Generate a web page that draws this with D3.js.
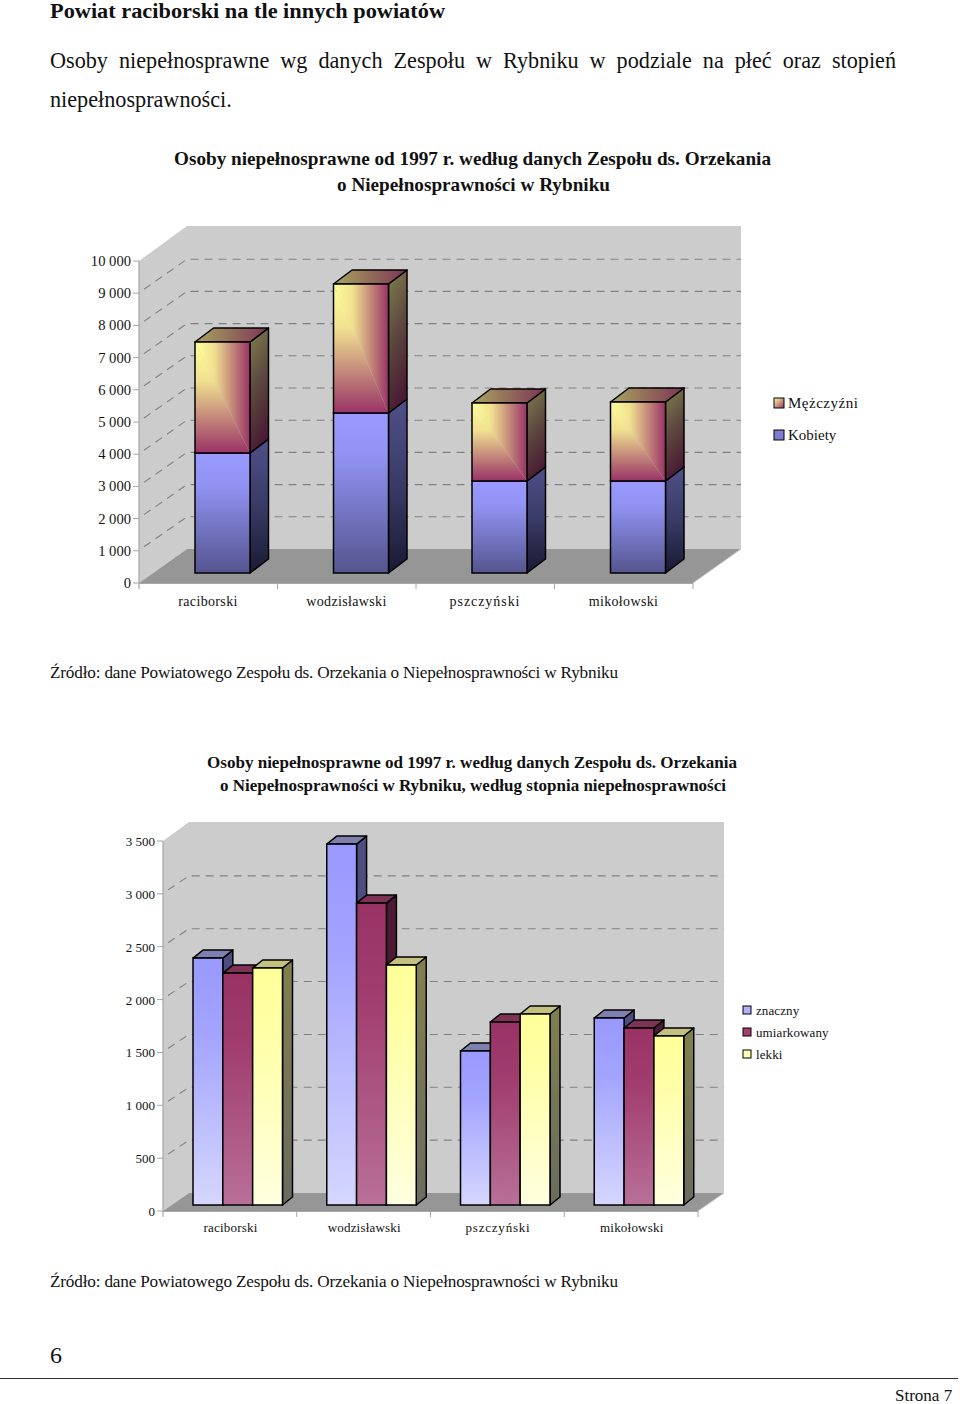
<!DOCTYPE html>
<html><head><meta charset="utf-8">
<script src="https://cdn.jsdelivr.net/npm/d3@7/dist/d3.min.js"></script>
<style>html,body{margin:0;padding:0;background:#fff}svg{display:block}text{font-family:"Liberation Serif",serif;fill:#111}</style>
</head><body><svg id="c" width="960" height="1404"></svg>
<script>
const categories = ["raciborski","wodzisławski","pszczyński","mikołowski"];
const kobiety = [3727,4969,2857,2857];
const mezczyzni = [3447,4006,2423,2453];
const seriesA = ["Mężczyźni","Kobiety"];
const ticksA = [0,1000,2000,3000,4000,5000,6000,7000,8000,9000,10000];
const znaczny = [2336,3414,1457,1769];
const umiarkowany = [2194,2856,1731,1674];
const lekki = [2242,2270,1807,1599];
const seriesB = ["znaczny","umiarkowany","lekki"];
const ticksB = [0,500,1000,1500,2000,2500,3000,3500];
const titleA = ["Osoby niepełnosprawne od 1997 r. według danych Zespołu ds. Orzekania","o Niepełnosprawności w Rybniku"];
const titleB = ["Osoby niepełnosprawne od 1997 r. według danych Zespołu ds. Orzekania","o Niepełnosprawności w Rybniku, według stopnia niepełnosprawności"];
const source = "Źródło: dane Powiatowego Zespołu ds. Orzekania o Niepełnosprawności w Rybniku";

const svg = d3.select("#c"), defs = svg.append("defs");
const fmt = v => d3.format(",")(v).replace(/,/g," ");
const txt = (x,y,s,size,o={}) => {
  const t = svg.append("text").attr("x",x).attr("y",y).attr("font-size",size).text(s);
  if(o.anchor) t.attr("text-anchor",o.anchor);
  if(o.weight) t.attr("font-weight",o.weight);
  if(o.len) t.attr("textLength",o.len).attr("lengthAdjust",o.adj||"spacing");
  if(o.justify){
    const spaces=s.split(" ").length-1;
    t.style("word-spacing",((o.justify-t.node().getComputedTextLength())/spaces)+"px");
  }
  return t;
};
let gid=0;
function grad(x1,y1,x2,y2,stops){
  const id="g"+(gid++);
  const g=defs.append("linearGradient").attr("id",id).attr("x1",x1).attr("y1",y1).attr("x2",x2).attr("y2",y2);
  stops.forEach(s=>g.append("stop").attr("offset",s[0]).attr("stop-color",s[1]));
  return `url(#${id})`;
}
const line=d3.line();
function frame(g,c){
  const y=c.y, dx=c.dx, dy=c.dy, x0=c.x0, x1=c.x1, yb=y(0), yt=y(c.max);
  g.append("path").attr("d",line([[x0,yt],[x0+dx,yt-dy-1],[x1+dx,yt-dy-1],[x1+dx,yb-dy],[x0+dx,yb-dy],[x0,yb]])+"Z").attr("fill","#cccccc");
  g.append("path").attr("d",line([[x0,yb],[x0+dx,yb-dy],[x1+dx,yb-dy],[x1,yb]])+"Z").attr("fill","#969696");
  c.ticks.slice(1,-1).forEach(v=>{
    g.append("path").attr("d",line([[x0+5,y(v)-4],[x0+dx,y(v)-dy],[x1+dx,y(v)-dy]])).attr("fill","none").attr("stroke","#808080").attr("stroke-width",1.1).attr("stroke-dasharray","8 6");
  });
  g.append("path").attr("d",line([[x0,yt],[x0,yb+6]])).attr("stroke","#a6a6a6").attr("stroke-width",1.2);
  g.append("path").attr("d",line([[x0,yb+.5],[x1,yb+.5]])).attr("stroke","#a6a6a6").attr("stroke-width",1.2);
  g.append("path").attr("d",line([[x1,yb],[x1+dx,yb-dy]])).attr("stroke","#c8c8c8").attr("stroke-width",1);
  c.ticks.forEach(v=>{
    g.append("path").attr("d",line([[x0-6,y(v)],[x0,y(v)]])).attr("stroke","#a6a6a6");
    txt(x0-8,y(v)+5,fmt(v),c.tickSize,{anchor:"end"});
  });
  const xb=c.x;
  categories.forEach(k=>{
    const e=xb(k)+xb.bandwidth();
    g.append("path").attr("d",line([[e,yb],[e,yb+6]])).attr("stroke","#a6a6a6");
    txt(xb(k)+c.labelDx,c.labelY,k,c.catSize,{anchor:"middle"}).style("letter-spacing",(k==="pszczyński"?c.catSpace+.6:c.catSpace)+"px");
  });
}
function box(g,x,w,yTop,yBot,dx,dy,front,side,top){
  const sw=1.5;
  g.append("path").attr("d",line([[x+w,yTop],[x+w+dx,yTop-dy],[x+w+dx,yBot-dy],[x+w,yBot]])+"Z").attr("fill",side).attr("stroke","#000").attr("stroke-width",sw).attr("stroke-linejoin","round");
  if(top) g.append("path").attr("d",line([[x,yTop],[x+dx,yTop-dy],[x+w+dx,yTop-dy],[x+w,yTop]])+"Z").attr("fill",top).attr("stroke","#000").attr("stroke-width",sw).attr("stroke-linejoin","round");
  if(Array.isArray(front)){
    g.append("path").attr("d",line([[x,yTop],[x+w,yTop],[x+w,yBot]])+"Z").attr("fill",front[0]);
    g.append("path").attr("d",line([[x,yTop],[x,yBot],[x+w,yBot]])+"Z").attr("fill",front[1]);
    g.append("rect").attr("x",x).attr("y",yTop).attr("width",w).attr("height",yBot-yTop).attr("fill","none").attr("stroke","#000").attr("stroke-width",sw);
  } else {
    g.append("rect").attr("x",x).attr("y",yTop).attr("width",w).attr("height",yBot-yTop).attr("fill",front).attr("stroke","#000").attr("stroke-width",sw);
  }
}

// page text
txt(50,18.4,"Powiat raciborski na tle innych powiatów",20.6,{weight:"bold",len:395,adj:"spacingAndGlyphs"});
txt(50,68,"Osoby niepełnosprawne wg danych Zespołu w Rybniku w podziale na płeć oraz stopień",22.2,{justify:846});
txt(50,107,"niepełnosprawności.",22.2);
txt(174,165,titleA[0],19.5,{weight:"bold",len:597,adj:"spacingAndGlyphs"});
txt(337,191,titleA[1],19.5,{weight:"bold",len:273,adj:"spacingAndGlyphs"});
txt(50,678,source,17.2,{len:568});
txt(207,768,titleB[0],17.5,{weight:"bold",len:530,adj:"spacingAndGlyphs"});
txt(220,791,titleB[1],17.5,{weight:"bold",len:506,adj:"spacingAndGlyphs"});
txt(50,1287,source,17.2,{len:568});
txt(50,1363,"6",24);
svg.append("path").attr("d",line([[0,1378.5],[958,1378.5]])).attr("stroke","#333").attr("stroke-width",1);
txt(895,1401,"Strona 7",17);

// chart A
{
  const y=d3.scaleLinear().domain([0,10000]).range([583,261]);
  const x=d3.scaleBand().domain(categories).range([139,693]);
  const cfg={y,x,x0:139,x1:693,dx:48,dy:34,max:10000,ticks:ticksA,tickSize:14.6,catSize:14,catSpace:.35,labelDx:69,labelY:606};
  const g=svg.append("g");
  frame(g,cfg);
  const lift=y(0)-573, bw=55, off=56, bdx=18.5, bdy=14;
  const fF=grad(0,0,0,1,[[0,"#9999ff"],[.25,"#9393f5"],[1,"#55558f"]]);
  const fS=grad(0,0,0,1,[[0,"#50508a"],[.5,"#3a3a66"],[1,"#1a1a33"]]);
  const mH=grad(0,0,1,0,[[0,"#ffff99"],[.35,"#f0e090"],[1,"#993366"]]);
  const mV=grad(0,0,0,1,[[0,"#ffff99"],[.35,"#f0e090"],[1,"#993366"]]);
  const mS=grad(0,0,.25,1,[[0,"#80804d"],[.5,"#5e4a40"],[1,"#4a1c33"]]);
  const mT=grad(0,0,1,0,[[0,"#a8a55f"],[1,"#7d3455"]]);
  categories.forEach((k,i)=>{
    const X=x(k)+off, yK=y(kobiety[i])-lift, yM=y(kobiety[i]+mezczyzni[i])-lift;
    box(g,X,bw,yK,y(0)-lift,bdx,bdy,fF,fS,null);
    box(g,X,bw,yM,yK,bdx,bdy,[mH,mV],mS,mT);
  });
  seriesA.forEach((s,i)=>{
    const sy=398+i*32;
    g.append("rect").attr("x",774).attr("y",sy).attr("width",10).attr("height",10).attr("fill",i?"#7c7cd0":grad(0,0,1,1,[[0,"#ffff99"],[1,"#993366"]])).attr("stroke","#000").attr("stroke-width",1);
    txt(788,sy+10,s,15).style("letter-spacing",i?"0px":".5px");
  });
}
// chart B
{
  const y=d3.scaleLinear().domain([0,3500]).range([1211,841]);
  const x=d3.scaleBand().domain(categories).range([163,698]);
  const cfg={y,x,x0:163,x1:698,dx:26,dy:18,max:3500,ticks:ticksB,tickSize:13,catSize:13,catSpace:.2,labelDx:67.5,labelY:1232};
  const g=svg.append("g");
  frame(g,cfg);
  const lift=y(0)-1205, bdx=10, bdy=8, inner=d3.scaleBand().domain(seriesB).range([0,89.5]);
  const vals=[znaczny,umiarkowany,lekki];
  const fr=[grad(0,0,0,1,[[0,"#9999ff"],[.3,"#a3a3ff"],[1,"#d6d6ff"]]),grad(0,0,0,1,[[0,"#993366"],[.3,"#a03c6e"],[1,"#b87098"]]),grad(0,0,0,1,[[0,"#ffff99"],[.3,"#ffffa8"],[1,"#ffffe0"]])];
  const sd=["#4d4d80","#4d1a33",grad(0,0,0,1,[[0,"#80804d"],[1,"#6b6b60"]])];
  const tp=["#8080b0","#7d3355","#c4c080"];
  categories.forEach((k,i)=>{
    const X=x(k)+30;
    seriesB.forEach((s,j)=>{
      box(g,X+inner(s),inner.bandwidth(),y(vals[j][i])-lift,y(0)-lift,bdx,bdy,fr[j],sd[j],tp[j]);
    });
  });
  const sw=["#b0b0ff","#a83e70","#ffffb0"];
  seriesB.forEach((s,i)=>{
    const sy=1006+i*22;
    g.append("rect").attr("x",743).attr("y",sy).attr("width",8).attr("height",8).attr("fill",sw[i]).attr("stroke","#000").attr("stroke-width",1);
    txt(756,sy+8.5,s,13).style("letter-spacing",".1px");
  });
}
</script></body></html>
